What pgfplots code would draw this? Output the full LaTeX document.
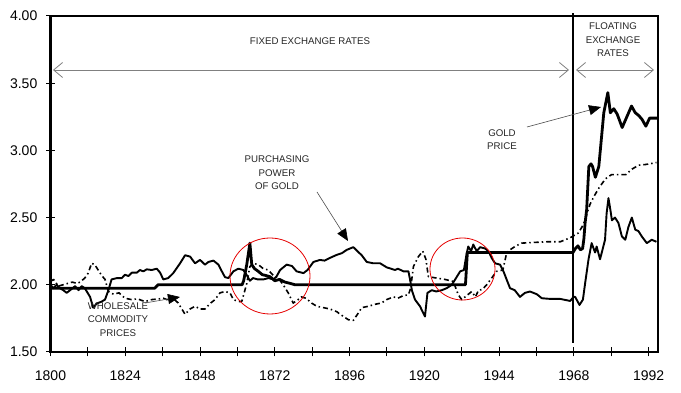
\documentclass[border=0pt]{standalone}
\usepackage{fontspec}
\setmainfont{Liberation Sans}
\usepackage{pgfplots}
\pgfplotsset{compat=1.18}
\usetikzlibrary{arrows.meta}

\begin{document}
\begin{tikzpicture}
\path[use as bounding box] (0,0) rectangle (681pt,393pt);
\begin{axis}[
  at={(50.5pt,41pt)}, anchor=south west,
  scale only axis, width=607.5pt, height=336pt,
  xmin=1800, xmax=1995, ymin=1.5, ymax=4,
  axis line style={line width=2.2pt},
  xtick={1800,1824,...,1992}, minor xtick={1812,1836,...,1980},
  ytick={1.5,2,2.5,3,3.5,4},
  xtick pos=bottom, ytick pos=left,
  tick align=center, major tick length=9pt, minor tick length=9pt,
  tick style={black, line width=1pt},
  minor tick style={black, line width=1pt},
  tick label style={font=\fontsize{14}{16}\selectfont, inner sep=0pt},
  xticklabel style={yshift=-14pt},
  yticklabel style={xshift=-8.5pt},
  /pgf/number format/assume math mode=true,
  x tick label style={/pgf/number format/1000 sep={}},
  y tick label style={/pgf/number format/.cd, fixed, fixed zerofill, precision=2},
  clip=false,
]
% Wholesale commodity prices (dashed)
\addplot[line width=1.6pt, black, dash pattern=on 5pt off 3pt on 1.5pt off 3pt, line join=round] coordinates {
(1800,2.025)(1801,2.04)(1802.5,1.99)(1804,2.0)(1805.5,2.01)(1807,2.02)(1808.5,2.01)(1809.5,2.02)
(1811,2.05)(1812.1,2.087)(1813.2,2.16)(1814.2,2.15)(1815.3,2.11)(1816.4,2.07)(1817.5,2.04)
(1818.6,1.95)(1820.2,1.93)(1822,1.94)(1823.9,1.90)(1826,1.89)(1828,1.895)(1830.3,1.875)
(1832.5,1.89)(1834.8,1.895)(1836.2,1.90)(1837.3,1.89)(1839.4,1.9)(1841,1.864)(1843.2,1.78)
(1844.8,1.82)(1846.4,1.84)(1848,1.82)(1849.6,1.82)(1851.2,1.86)(1852.8,1.89)(1854.4,1.94)
(1856,1.95)(1857.6,1.94)(1858.7,1.89)(1860.3,1.876)(1861.4,1.876)(1863,2.01)(1864,2.136)
(1865.1,2.16)(1866.7,2.15)(1868.3,2.12)(1869.9,2.11)(1871.5,2.07)(1873.1,2.05)(1874.7,2.00)
(1876.3,1.94)(1877.9,1.864)(1879.5,1.89)(1880.5,1.91)(1882,1.90)(1883.8,1.864)(1885.5,1.84)
(1887.6,1.83)(1889.7,1.82)(1891.9,1.80)(1893,1.78)(1895.6,1.74)(1897.2,1.735)(1898.8,1.79)
(1899.9,1.83)(1902,1.84)(1904.2,1.855)(1906.3,1.865)(1907.9,1.89)(1910.1,1.91)(1911.5,1.90)
(1913.3,1.92)(1914.9,1.925)(1915.6,1.975)(1916.5,2.136)(1918.1,2.21)(1919.5,2.25)(1920.5,2.19)
(1921.3,2.06)(1924,2.05)(1926.6,2.04)(1929.3,2.025)(1930.9,1.925)(1932,1.89)(1933.6,1.92)
(1935.2,1.95)(1936.4,1.91)(1937.4,1.96)(1938.6,1.965)(1940,2.0)(1941.6,2.05)(1943.2,2.1)
(1945.2,2.11)(1946.4,2.235)(1947.5,2.26)(1949.1,2.285)(1951.2,2.31)(1955,2.315)(1959.3,2.32)
(1963.6,2.32)(1966.8,2.35)(1969.4,2.385)(1970.6,2.43)(1971.6,2.48)(1972.6,2.56)(1973.2,2.60)
(1974.5,2.66)(1976.3,2.73)(1978.2,2.79)(1980.1,2.82)(1982.6,2.82)(1984.7,2.82)(1986.6,2.86)
(1988.8,2.89)(1991,2.895)(1993.6,2.905)(1994.5,2.91)
};
% Purchasing power of gold
\addplot[line width=1.9pt, black, line join=round] coordinates {
(1800,2.00)(1800.9,1.975)(1802,2.00)(1803,1.975)(1804.1,1.96)(1805.2,1.94)(1806.3,1.96)
(1807.9,1.99)(1809,1.96)(1810,1.99)(1811,1.975)(1812.7,1.91)(1813.7,1.83)(1814.8,1.86)
(1816.4,1.875)(1817.5,1.89)(1818.6,1.96)(1819.6,2.04)(1821.3,2.05)(1822.9,2.05)(1823.9,2.075)
(1825,2.065)(1826.1,2.09)(1827.7,2.09)(1828.7,2.11)(1829.8,2.10)(1830.9,2.115)(1832.5,2.11)
(1834.1,2.12)(1835.2,2.09)(1836.2,2.04)(1837.8,2.05)(1839.4,2.087)(1841.6,2.16)(1843.2,2.22)
(1844.8,2.21)(1846.4,2.16)(1848,2.185)(1849.6,2.15)(1850.7,2.17)(1852.3,2.18)(1853.9,2.15)
(1855,2.10)(1856,2.057)(1857.1,2.05)(1858.7,2.10)(1860.3,2.12)(1861.9,2.11)(1862.8,2.08)
(1864,2.03)(1865,2.05)(1866.5,2.04)(1868.3,2.04)(1870,2.05)(1871.5,2.04)(1872.5,2.06)
(1873.7,2.11)(1875.8,2.15)(1877.5,2.14)(1879,2.10)(1881.2,2.087)(1882.5,2.11)(1884.4,2.17)
(1886.5,2.185)(1888,2.18)(1889.7,2.2)(1891.9,2.223)(1893.5,2.235)(1895.1,2.26)(1897.2,2.28)
(1898.5,2.25)(1899.9,2.22)(1901.5,2.17)(1903.6,2.16)(1905.8,2.16)(1907.9,2.13)(1910.6,2.11)
(1911.5,2.12)(1913.3,2.10)(1914.9,2.10)(1915.4,2.04)(1916,1.96)(1917,1.89)(1918.6,1.84)
(1920.2,1.764)(1921,1.94)(1922.4,1.96)(1923.8,1.95)(1925.6,1.96)(1927.2,1.975)(1928.8,2.0)
(1929.9,2.04)(1931.5,2.10)(1932.7,2.11)(1933.6,2.235)(1934.1,2.285)(1935,2.25)(1935.7,2.30)
(1936.8,2.25)(1937.9,2.28)(1939.5,2.27)(1940.6,2.25)(1941.6,2.2)(1942.7,2.16)(1944.3,2.15)
(1945.4,2.10)(1946.4,2.04)(1947.5,1.975)(1949,1.96)(1950.7,1.91)(1952.3,1.94)(1953.9,1.95)
(1956.1,1.93)(1957.7,1.90)(1960.4,1.895)(1963.6,1.895)(1966.8,1.88)(1967.9,1.91)(1968.4,1.91)
(1969.8,1.85)(1970.9,1.89)(1971.6,2.01)(1972.7,2.19)(1973.7,2.31)(1974.8,2.24)(1975.3,2.285)
(1976.4,2.19)(1978,2.335)(1978.5,2.53)(1979.1,2.645)(1979.8,2.545)(1980.2,2.48)(1981.2,2.50)
(1982.3,2.46)(1983.4,2.36)(1984.5,2.335)(1985.5,2.43)(1986.6,2.50)(1987.7,2.41)(1988.7,2.40)
(1989.8,2.36)(1991.4,2.31)(1993,2.335)(1994.5,2.32)
};
% Gold price
\addplot[line width=2.8pt, black, line join=round] coordinates {
(1800,1.975)(1833.5,1.975)(1834.5,2.0)(1861.5,2.0)(1862,2.03)(1863,2.15)(1864,2.31)
(1864.6,2.15)(1865.5,2.12)(1866.7,2.10)(1868,2.075)(1869,2.07)(1870.5,2.06)(1872,2.03)
(1873.5,2.04)(1875.3,2.02)(1877,2.01)(1878.5,2.0)(1933.2,2.0)(1933.8,2.24)(1967.7,2.24)
(1968.5,2.27)(1969.3,2.29)(1970.1,2.26)(1970.8,2.27)(1971.2,2.34)(1971.6,2.46)(1972.1,2.56)
(1972.8,2.88)(1973.5,2.90)(1974,2.88)(1974.9,2.80)(1976,2.88)(1977.6,3.28)(1978.9,3.43)
(1979.7,3.28)(1980.8,3.31)(1981.9,3.27)(1983.5,3.17)(1985,3.25)(1986.5,3.33)(1987.7,3.28)
(1988.8,3.26)(1989.9,3.23)(1991.1,3.18)(1992.3,3.24)(1994.6,3.24)
};
\draw[line width=2.2pt] (axis cs:1967.7,4.02) -- (axis cs:1967.7,1.565);
\end{axis}
\begin{scope}[x=1pt,y=-1pt,shift={(0pt,393pt)}]
  \tikzset{lab/.style={font=\fontsize{9.7}{13.5}\selectfont, text=black!85, align=center, inner sep=0pt}}
  \node[lab] at (310,41) {FIXED EXCHANGE RATES};
  \draw[gray, line width=0.8pt, {Straight Barb[length=9pt,width=15pt]}-{Straight Barb[length=9pt,width=15pt]}] (53,70) -- (569,70);
  \draw[gray, line width=0.8pt, {Straight Barb[length=9pt,width=15pt]}-{Straight Barb[length=9pt,width=15pt]}] (576,70) -- (654,70);
  \node[lab] at (613,40) {FLOATING\\EXCHANGE\\RATES};
  \node[lab] at (502,139.5) {GOLD\\PRICE};
  \draw[gray!60!black, line width=0.6pt, -{Triangle[length=12pt,width=10pt,color=black]}] (527,127) -- (601,107);
  \node[lab] at (277,173) {PURCHASING\\POWER\\OF GOLD};
  \draw[gray!60!black, line width=0.6pt, -{Triangle[length=12pt,width=10pt,color=black]}] (317,192) -- (348,241);
  \node[lab] at (118,319.5) {WHOLESALE\\COMMODITY\\PRICES};
  \draw[gray!60!black, line width=0.6pt, -{Triangle[length=12pt,width=10pt,color=black]}] (145,303) -- (180,297);
  \draw[red!90!black, line width=0.8pt] (270,276) ellipse [x radius=40, y radius=38];
  \draw[red!90!black, line width=0.8pt] (462.5,269) ellipse [x radius=32.5, y radius=31];
\end{scope}
\end{tikzpicture}
\end{document}
